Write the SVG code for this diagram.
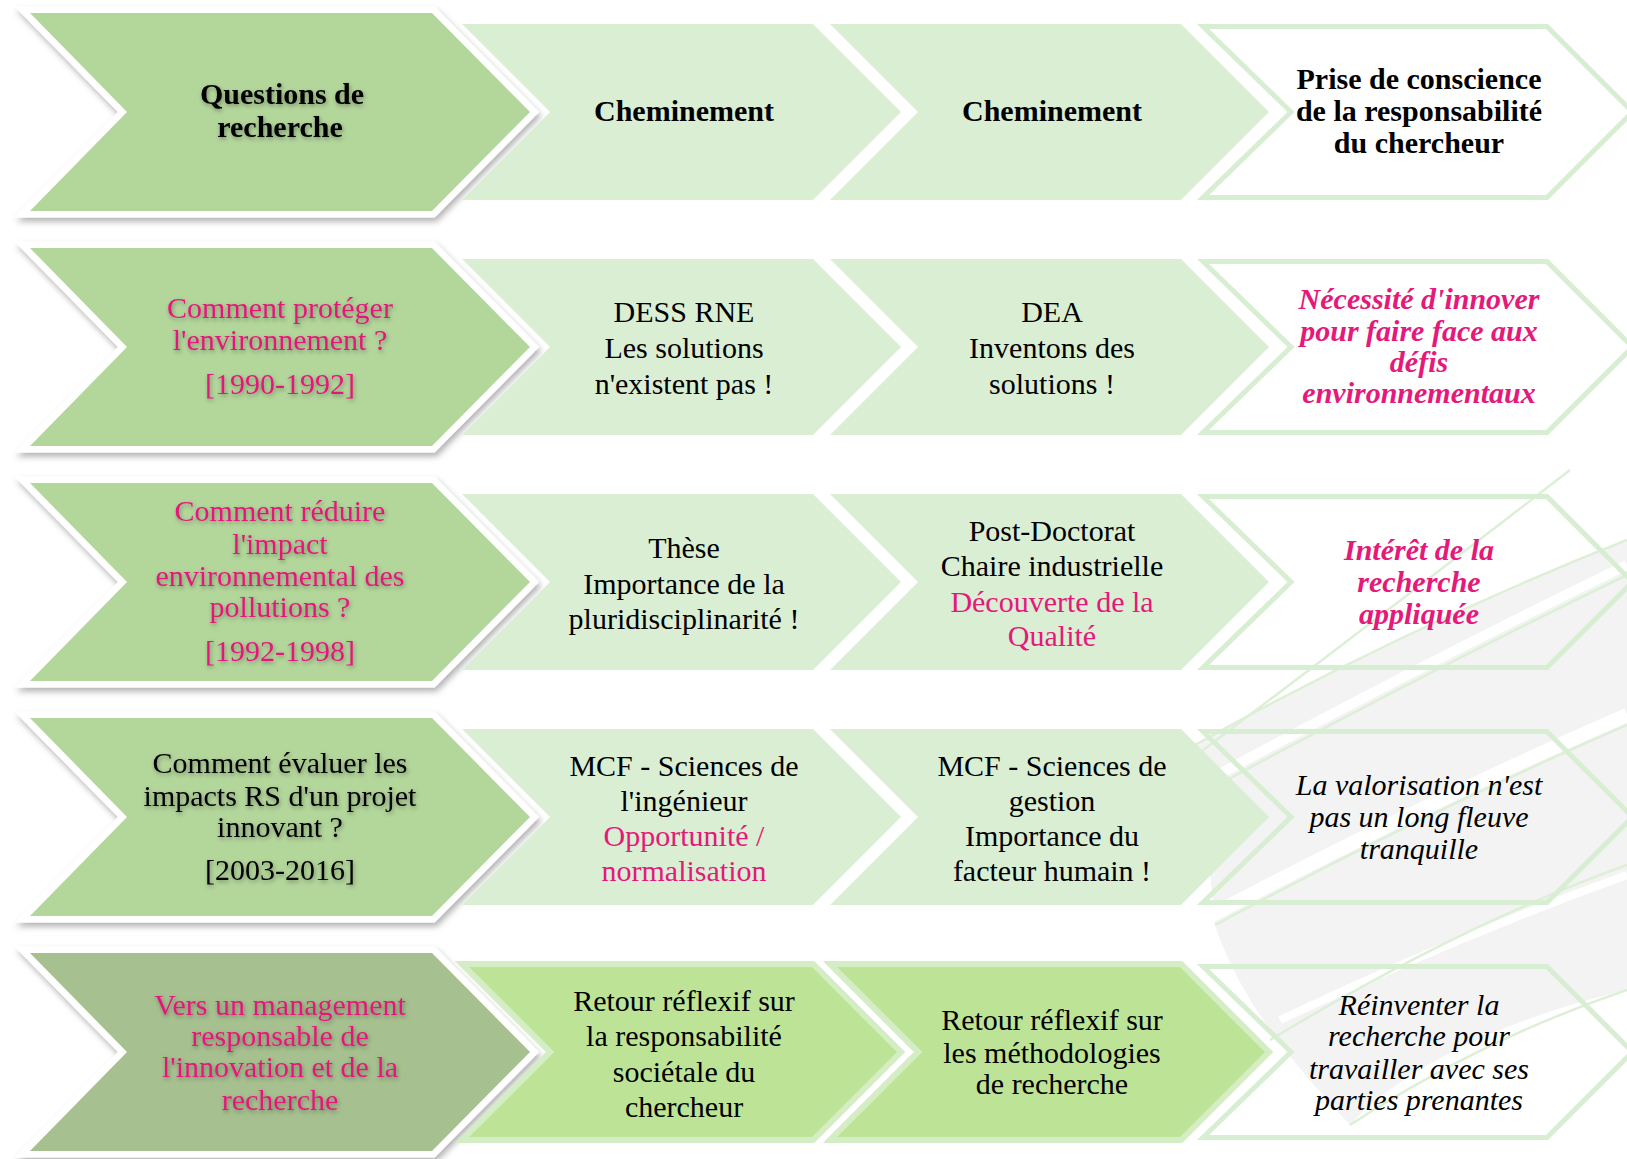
<svg xmlns="http://www.w3.org/2000/svg" width="1627" height="1159" viewBox="0 0 1627 1159">
<style>
text{font-family:"Liberation Serif","Times New Roman",serif;font-size:30px;text-anchor:middle;fill:#000}
.b{font-weight:bold}
.i{font-style:italic}
.pk{fill:#E5197A}
.ts{filter:url(#tsh)}
.c1{fill:#B3D69B;stroke:#FFFFFF;stroke-width:13;paint-order:stroke;stroke-linejoin:miter;filter:url(#sh)}
.c1d{fill:#A6C08F;stroke:#FFFFFF;stroke-width:13;paint-order:stroke;stroke-linejoin:miter;filter:url(#sh)}
.c2{fill:#DAEED4}
.c5{fill:#BDE496;stroke:#D4EDC4;stroke-width:6}
.c4{fill:none;stroke:#D8EED2;stroke-width:5}
.bg{fill:#F3F3F3}
.ws{fill:none;stroke:#FFFFFF}
.bl{fill:none;stroke:#DDEFD6;stroke-width:2.5}
</style>
<defs>
<filter id="sh" x="-10%" y="-10%" width="120%" height="125%">
<feDropShadow dx="2" dy="4" stdDeviation="3" flood-color="#000" flood-opacity="0.3"/>
</filter>
<filter id="tsh" x="-10%" y="-20%" width="120%" height="140%">
<feDropShadow dx="1" dy="2" stdDeviation="2" flood-color="#000" flood-opacity="0.35"/>
</filter>
<polygon id="p1" points="30,13 432,13 530,112 432,211 30,211 127,112"/>
<polygon id="p2" points="462,24 813,24 901,112 813,200 462,200 550,112"/>
<polygon id="p3" points="830,24 1181,24 1269,112 1181,200 830,200 918,112"/>
<polygon id="p4" points="1203,26.5 1547,26.5 1632.5,112 1547,197.5 1203,197.5 1291,112"/>
</defs>
<rect width="1627" height="1159" fill="#FFFFFF"/>

<g id="background-pattern">
<path class="bg" d="M1195,745 C1350,660 1500,590 1627,540 L1627,990 C1500,1020 1400,1070 1350,1125 C1290,1060 1240,1000 1215,925 C1210,860 1200,800 1195,745 Z"/>
<path class="ws" stroke-width="10" d="M1190,790 Q1420,665 1627,565"/>
<path class="ws" stroke-width="14" d="M1212,915 Q1420,805 1627,715"/>
<path class="ws" stroke-width="8" d="M1280,1020 Q1460,935 1627,875"/>
<path class="bl" d="M1150,790 Q1350,640 1570,470"/>
<path class="bl" d="M1195,745 Q1400,630 1627,540"/>
<path class="bl" d="M1190,800 Q1420,675 1627,575"/>
<path class="bl" d="M1215,925 Q1420,815 1627,725"/>
<path class="bl" d="M1270,1040 Q1460,925 1627,865"/>
<path class="bl" d="M1350,1125 Q1480,1040 1627,990"/>
</g>

<g id="connectors"></g>

<!-- Row 1 -->
<g id="r1c1"><use href="#p1" class="c1"/>
<g class="ts"><text class="b" x="282" y="104">Questions de</text><text class="b" x="280" y="137">recherche</text></g></g>
<g id="r1c2"><use href="#p2" class="c2"/><text class="b" x="684" y="121">Cheminement</text></g>
<g id="r1c3"><use href="#p3" class="c2"/><text class="b" x="1052" y="121">Cheminement</text></g>
<g id="r1c4"><use href="#p4" class="c4"/>
<text class="b" x="1419" y="89">Prise de conscience</text><text class="b" x="1419" y="121">de la responsabilité</text><text class="b" x="1419" y="153">du chercheur</text></g>

<!-- Row 2 -->
<g id="r2c1"><use href="#p1" y="235" class="c1"/>
<g class="ts"><text class="pk" x="280" y="318">Comment protéger</text><text class="pk" x="280" y="350">l'environnement ?</text><text class="pk" x="280" y="394">[1990-1992]</text></g></g>
<g id="r2c2"><use href="#p2" y="235" class="c2"/>
<text x="684" y="322">DESS RNE</text><text x="684" y="358">Les solutions</text><text x="684" y="394">n'existent pas !</text></g>
<g id="r2c3"><use href="#p3" y="235" class="c2"/>
<text x="1052" y="322">DEA</text><text x="1052" y="358">Inventons des</text><text x="1052" y="394">solutions !</text></g>
<g id="r2c4"><use href="#p4" y="235" class="c4"/>
<text class="b i pk" x="1419" y="309">Nécessité d'innover</text><text class="b i pk" x="1419" y="341">pour faire face aux</text><text class="b i pk" x="1419" y="372">défis</text><text class="b i pk" x="1419" y="403">environnementaux</text></g>

<!-- Row 3 -->
<g id="r3c1"><use href="#p1" y="470" class="c1"/>
<g class="ts"><text class="pk" x="280" y="521">Comment réduire</text><text class="pk" x="280" y="554">l'impact</text><text class="pk" x="280" y="586">environnemental des</text><text class="pk" x="280" y="617">pollutions ?</text><text class="pk" x="280" y="661">[1992-1998]</text></g></g>
<g id="r3c2"><use href="#p2" y="470" class="c2"/>
<text x="684" y="558">Thèse</text><text x="684" y="594">Importance de la</text><text x="684" y="629">pluridisciplinarité !</text></g>
<g id="r3c3"><use href="#p3" y="470" class="c2"/>
<text x="1052" y="541">Post-Doctorat</text><text x="1052" y="576">Chaire industrielle</text><text class="pk" x="1052" y="612">Découverte de la</text><text class="pk" x="1052" y="646">Qualité</text></g>
<g id="r3c4"><use href="#p4" y="470" class="c4"/>
<text class="b i pk" x="1419" y="560">Intérêt de la</text><text class="b i pk" x="1419" y="592">recherche</text><text class="b i pk" x="1419" y="624">appliquée</text></g>

<!-- Row 4 -->
<g id="r4c1"><use href="#p1" y="705" class="c1"/>
<g class="ts"><text x="280" y="773">Comment évaluer les</text><text x="280" y="806">impacts RS d'un projet</text><text x="280" y="837">innovant ?</text><text x="280" y="880">[2003-2016]</text></g></g>
<g id="r4c2"><use href="#p2" y="705" class="c2"/>
<text x="684" y="776">MCF - Sciences de</text><text x="684" y="811">l'ingénieur</text><text class="pk" x="684" y="846">Opportunité /</text><text class="pk" x="684" y="881">normalisation</text></g>
<g id="r4c3"><use href="#p3" y="705" class="c2"/>
<text x="1052" y="776">MCF - Sciences de</text><text x="1052" y="811">gestion</text><text x="1052" y="846">Importance du</text><text x="1052" y="881">facteur humain !</text></g>
<g id="r4c4"><use href="#p4" y="705" class="c4"/>
<text class="i" x="1419" y="795">La valorisation n'est</text><text class="i" x="1419" y="827">pas un long fleuve</text><text class="i" x="1419" y="859">tranquille</text></g>

<!-- Row 5 -->
<g id="r5c1"><use href="#p1" y="940" class="c1d"/>
<g class="ts"><text class="pk" x="280" y="1015">Vers un management</text><text class="pk" x="280" y="1046">responsable de</text><text class="pk" x="280" y="1077">l'innovation et de la</text><text class="pk" x="280" y="1110">recherche</text></g></g>
<g id="r5c2"><use href="#p2" y="940" class="c5"/>
<text x="684" y="1011">Retour réflexif sur</text><text x="684" y="1046">la responsabilité</text><text x="684" y="1082">sociétale du</text><text x="684" y="1117">chercheur</text></g>
<g id="r5c3"><use href="#p3" y="940" class="c5"/>
<text x="1052" y="1030">Retour réflexif sur</text><text x="1052" y="1063">les méthodologies</text><text x="1052" y="1094">de recherche</text></g>
<g id="r5c4"><use href="#p4" y="940" class="c4"/>
<text class="i" x="1419" y="1015">Réinventer la</text><text class="i" x="1419" y="1046">recherche pour</text><text class="i" x="1419" y="1079">travailler avec ses</text><text class="i" x="1419" y="1110">parties prenantes</text></g>
</svg>
